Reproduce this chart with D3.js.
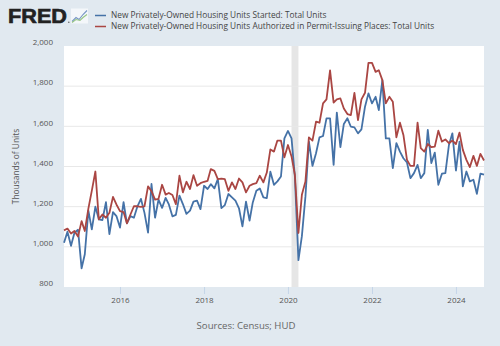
<!DOCTYPE html>
<html>
<head>
<meta charset="utf-8">
<script src="https://cdn.jsdelivr.net/npm/d3@7"></script>
<style>
  body { margin: 0; background: #e1e9f0; }
  svg { display: block; font-family: "Open Sans", sans-serif; }
</style>
</head>
<body>
<script>
// monthly, seasonally adjusted annual rate, thousands of units, Sep 2014 .. Sep 2024
var firstMonth = new Date(2014, 8, 1);

var starts = [
  1020, 1075, 1005, 1070,
  1085, 893, 963, 1180, 1087, 1200, 1137, 1133, 1222, 1063, 1173, 1153,
  1096, 1222, 1117, 1153, 1145, 1202, 1239, 1169, 1071, 1313, 1145, 1235,
  1194, 1244, 1211, 1152, 1159, 1255, 1213, 1164, 1180, 1225, 1230, 1188,
  1304, 1288, 1312, 1291, 1337, 1193, 1208, 1263, 1246, 1230, 1192, 1102,
  1225, 1131, 1221, 1279, 1291, 1246, 1243, 1374, 1309, 1326, 1350, 1540,
  1577, 1540, 1350, 934, 1053, 1251, 1524, 1403, 1466, 1545, 1552, 1640,
  1640, 1408, 1668, 1496, 1612, 1640, 1598, 1595, 1565, 1585, 1698, 1764,
  1714, 1747, 1681, 1830, 1540, 1540, 1392, 1516, 1474, 1441, 1420, 1342,
  1367, 1408, 1342, 1367, 1582, 1417, 1469, 1309, 1364, 1367, 1507, 1565,
  1380, 1524, 1301, 1375, 1326, 1334, 1264, 1364, 1359
];

var permits = [
  1082, 1091, 1066, 1079,
  1051, 1128, 1079, 1190, 1280, 1375, 1137, 1161, 1145, 1170, 1249, 1211,
  1178, 1173, 1117, 1161, 1202, 1202, 1199, 1202, 1301, 1277, 1235, 1239,
  1309, 1260, 1268, 1258, 1213, 1354, 1271, 1324, 1288, 1357, 1304, 1317,
  1324, 1329, 1387, 1378, 1337, 1340, 1337, 1279, 1321, 1288, 1340, 1321,
  1271, 1304, 1312, 1317, 1354, 1321, 1370, 1485, 1474, 1529, 1529, 1446,
  1507, 1450, 1359, 1069, 1259, 1326, 1545, 1529, 1623, 1618, 1714, 1734,
  1879, 1718, 1734, 1739, 1689, 1661, 1656, 1767, 1631, 1734, 1767, 1916,
  1916, 1871, 1879, 1830, 1714, 1747, 1722, 1545, 1618, 1557, 1433, 1403,
  1403, 1618, 1491, 1474, 1512, 1496, 1499, 1578, 1524, 1535, 1516, 1529,
  1512, 1569, 1483, 1433, 1397, 1453, 1403, 1463, 1430
];

var seriesNames = [
  'New Privately-Owned Housing Units Started: Total Units',
  'New Privately-Owned Housing Units Authorized in Permit-Issuing Places: Total Units'
];
var seriesColors = ['#4572a7', '#aa4643'];

var yTicks = [800, 1000, 1200, 1400, 1600, 1800, 2000];
var xTickYears = [2016, 2018, 2020, 2022, 2024];

// NBER recession, Feb 2020 - Apr 2020
var recession = [new Date(2020, 1, 1), new Date(2020, 3, 1)];

var fullWidth = 500;
var fullHeight = 346;
var margin = {top: 46, right: 16, bottom: 59, left: 64};
var width = fullWidth - margin.left - margin.right;
var height = fullHeight - margin.top - margin.bottom;

var months = starts.map(function(d, i) { return d3.timeMonth.offset(firstMonth, i); });

var svg = d3.select('body').append('svg')
  .attr('width', fullWidth)
  .attr('height', fullHeight);

svg.append('rect')
  .attr('width', fullWidth)
  .attr('height', fullHeight)
  .attr('fill', '#e1e9f0');

// logo
var logo = svg.append('g').attr('transform', 'translate(8,0)');
logo.append('text')
  .attr('x', 0)
  .attr('y', 23)
  .attr('textLength', 59)
  .attr('lengthAdjust', 'spacingAndGlyphs')
  .style('font-family', 'Arial, "Liberation Sans", sans-serif')
  .style('font-weight', 'bold')
  .style('font-size', '19.5px')
  .style('fill', '#222')
  .style('stroke', '#222')
  .style('stroke-width', 0.6)
  .text('FRED');
logo.append('circle').attr('cx', 60.8).attr('cy', 22.3).attr('r', 0.8).attr('fill', '#666');
var icon = logo.append('g').attr('transform', 'translate(63,8.5)');
icon.append('rect').attr('width', 17).attr('height', 15).attr('fill', '#f4f7fa');
icon.append('polyline')
  .attr('points', '1,13 5,9 8,11 12,6 16,2')
  .attr('fill', 'none').attr('stroke', '#7796c4').attr('stroke-width', 1.1);
icon.append('polyline')
  .attr('points', '1,14 5,11 9,12 12,9 16,6')
  .attr('fill', 'none').attr('stroke', '#97c684').attr('stroke-width', 1.1);

// legend
var legend = svg.append('g').attr('transform', 'translate(95,0)');
seriesNames.forEach(function(name, i) {
  var y = 15.5 + i * 11;
  legend.append('line')
    .attr('x1', 0).attr('x2', 11)
    .attr('y1', y).attr('y2', y)
    .attr('stroke', seriesColors[i])
    .attr('stroke-width', 1.5);
  legend.append('text')
    .attr('x', 16)
    .attr('y', y)
    .attr('dy', '0.35em')
    .style('font-size', '8.3px')
    .style('fill', '#444')
    .text(name);
});

var x = d3.scaleTime()
  .domain([months[0], months[months.length - 1]])
  .range([0, width]);

var y = d3.scaleLinear()
  .domain([800, 2000])
  .range([height, 0]);

var plot = svg.append('g')
  .attr('transform', 'translate(' + margin.left + ',' + margin.top + ')');

plot.append('rect')
  .attr('width', width)
  .attr('height', height)
  .attr('fill', '#fff');

plot.append('rect')
  .attr('x', x(recession[0]))
  .attr('width', x(recession[1]) - x(recession[0]))
  .attr('y', 0)
  .attr('height', height)
  .attr('fill', '#e6e6e6');

// horizontal grid
plot.append('g')
  .selectAll('line')
  .data(yTicks.slice(1, -1))
  .join('line')
    .attr('x1', 0).attr('x2', width)
    .attr('y1', function(d) { return y(d); })
    .attr('y2', function(d) { return y(d); })
    .attr('stroke', '#e8e8e8')
    .attr('stroke-width', 1);

var yAxis = d3.axisLeft(y)
  .tickValues(yTicks)
  .tickFormat(d3.format(','))
  .tickSize(0)
  .tickPadding(11);

var yAxisEle = plot.append('g')
  .classed('y axis', true)
  .call(yAxis);
yAxisEle.select('.domain').remove();
yAxisEle.selectAll('text')
  .attr('dy', '-0.15em')
  .style('font-size', '8px')
  .style('fill', '#555')
  .style('font-family', '"Open Sans", sans-serif');

var xAxis = d3.axisBottom(x)
  .tickValues(xTickYears.map(function(yr) { return new Date(yr, 0, 1); }))
  .tickFormat(d3.timeFormat('%Y'))
  .tickSize(7)
  .tickPadding(3);

var xAxisEle = plot.append('g')
  .classed('x axis', true)
  .attr('transform', 'translate(0,' + height + ')')
  .call(xAxis);
xAxisEle.select('.domain').remove();
xAxisEle.selectAll('line').attr('stroke', '#c5d5e8');
xAxisEle.selectAll('text')
  .style('font-size', '8px')
  .style('fill', '#555')
  .style('font-family', '"Open Sans", sans-serif');

svg.append('text')
  .attr('transform', 'translate(16,' + (margin.top + height / 2) + ') rotate(-90)')
  .attr('dy', '0.35em')
  .style('text-anchor', 'middle')
  .style('font-size', '8.4px')
  .style('fill', '#555')
  .text('Thousands of Units');

var line = d3.line()
  .x(function(d, i) { return x(months[i]); })
  .y(function(d) { return y(d); });

[starts, permits].forEach(function(values, i) {
  plot.append('path')
    .datum(values)
    .attr('fill', 'none')
    .attr('stroke', seriesColors[i])
    .attr('stroke-width', 1.8)
    .attr('stroke-linejoin', 'round')
    .attr('d', line);
});

svg.append('text')
  .attr('x', 246)
  .attr('y', 326)
  .attr('dy', '0.35em')
  .style('text-anchor', 'middle')
  .style('font-size', '9.6px')
  .style('fill', '#666')
  .text('Sources: Census; HUD');
</script>
</body>
</html>
